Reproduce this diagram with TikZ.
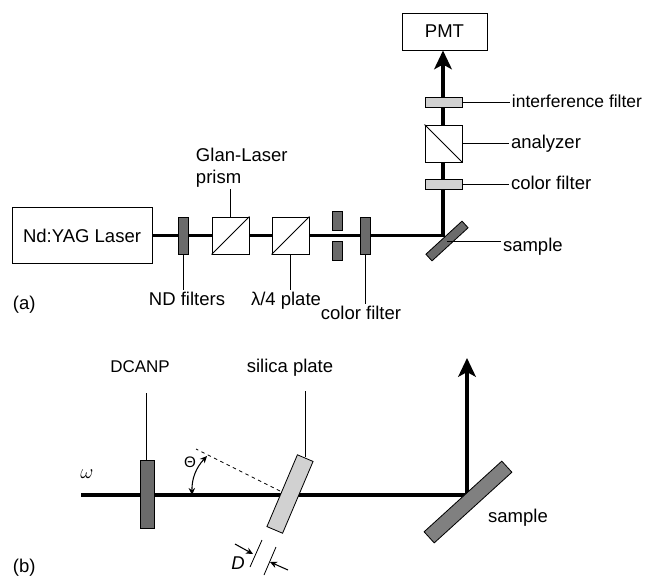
\documentclass[tikz,border=0pt]{standalone}
\usepackage{fontspec}
\setmainfont{Liberation Sans}
\usetikzlibrary{arrows.meta}
\def\pu{0.03cm}
\tikzset{
	box/.style={draw,line width=0.8pt,fill=white,inner sep=0pt,minimum width=#1*\pu,minimum height=37*\pu},
	cube/.style={draw,line width=0.8pt,fill=white,inner sep=0pt,minimum width=37*\pu,minimum height=37*\pu},
	plate/.style 2 args={draw,line width=0.7pt,fill=#2,inner sep=0pt,minimum width=#1*\pu},
	txt/.style={inner sep=1.5pt,font=\fontsize{15.8}{18}\selectfont},
	beam/.style={line width=2.8pt},
	lead/.style={line width=0.7pt},
	small/.style={line width=0.9pt,-{Stealth[length=6pt,width=5.5pt]}}
}
\colorlet{darkf}{black!58}
\colorlet{lightf}{black!18}
\begin{document}
\begin{tikzpicture}[x=\pu,y=-\pu,line join=miter,>=stealth]
	\useasboundingbox (0,0) rectangle (650,577);
	% (a)
	\coordinate (turn) at (443,235.5);
	\node[box=140,minimum height=56*\pu,txt] (laser) at (82,235.5) {Nd:YAG Laser};
	\node[box=85,txt] (pmt) at (444.5,31.5) {PMT};
	\draw[beam,-{Stealth[length=16pt,width=15pt,inset=4pt]}] (laser.east) -- (turn) -- (turn |- pmt.south);
	\node[plate={9.5}{darkf},minimum height=37*\pu] (nd) at (183.5,235.5) {};
	\node[cube] (glan) at (230.5,235.5) {};
	\node[cube] (quarter) at (290.5,235.5) {};
	\node[plate={10}{darkf},minimum height=19*\pu] (slit1) at (337,220.5) {};
	\node[plate={10}{darkf},minimum height=19*\pu] (slit2) at (337,250.5) {};
	\node[plate={10}{darkf},minimum height=37*\pu] (cfa) at (365,235.5) {};
	\node[plate={37}{lightf},minimum height=10*\pu] (intf) at (443.5,102) {};
	\node[cube] (ana) at (443.5,143.5) {};
	\node[plate={37}{lightf},minimum height=10*\pu] (cfb) at (443.5,184) {};
	\node[plate={49}{darkf},minimum height=9*\pu,rotate=42.5] (sama) at (447,241) {};
	\draw[line width=0.8pt] (glan.south west) -- (glan.north east);
	\draw[line width=0.8pt] (quarter.south west) -- (quarter.north east);
	\draw[line width=0.8pt] (ana.north west) -- (ana.south east);
	\path[txt]
	(194,161) node[anchor=base west] (glanl) {Glan-Laser}
	(194,183) node[anchor=base west] (prisml) {prism}
	(187,305) node[anchor=base] (ndl) {ND filters}
	(286,305) node[anchor=base] (quarterl) {λ/4 plate}
	(361,319) node[anchor=base] (cfal) {color filter}
	(510,107) node[anchor=base west,font=\fontsize{14.9}{18}\selectfont] (intl) {interference filter}
	(509,148) node[anchor=base west] (anal) {analyzer}
	(509,189) node[anchor=base west] (cfbl) {color filter}
	(501,251) node[anchor=base west] (samal) {sample}
	(11,309) node[anchor=base west] (al) {(a)};
	\draw[lead] (glan.north) -- (glan.north |- prisml.south);
	\draw[lead] (nd.south) -- (nd.south |- ndl.north);
	\draw[lead] (quarter.south) -- (quarter.south |- quarterl.north);
	\draw[lead] (cfa.south) -- (cfa.south |- cfal.north);
	\draw[lead] (intf.east) -- (intf.east -| intl.west);
	\draw[lead] (ana.east) -- (ana.east -| anal.west);
	\draw[lead] (cfb.east) -- (cfb.east -| cfbl.west);
	\draw[lead] (sama.center) -- (sama.center -| samal.west);
	% (b)
	\coordinate (start) at (81,495);
	\coordinate (turnb) at (467,495);
	\coordinate (tipb) at (467,358);
	\coordinate (hit) at (280,491);
	\coordinate (normal) at (196,449);
	\coordinate (thi) at (192,495);
	\coordinate (tht) at (207,456);
	\coordinate (d1a) at (262,540);
	\coordinate (d1b) at (250,567);
	\coordinate (d2a) at (276,547);
	\coordinate (d2b) at (264,575);
	\coordinate (d1c) at (235,544);
	\coordinate (d1e) at (253,554);
	\coordinate (d2c) at (288,570);
	\coordinate (d2e) at (270,562);
	\draw[beam,-{Stealth[length=16pt,width=15pt,inset=4pt]}] (start) -- (turnb) -- (tipb);
	\node[plate={14}{darkf},minimum height=68*\pu] (dcanp) at (147,494) {};
	\node[plate={78}{lightf},minimum height=17*\pu,rotate=67] (silica) at (290,494) {};
	\node[plate={105}{black!50},minimum height=15*\pu,rotate=42.3] (samb) at (468,502) {};
	\draw[dashed,line width=0.7pt] (hit) -- (normal);
	\draw[line width=0.9pt,{Stealth[length=6pt,width=5.5pt]}-{Stealth[length=6pt,width=5.5pt]}] (thi) to[bend left=22] (tht);
	\draw[lead] (d1a) -- (d1b) (d2a) -- (d2b);
	\draw[small] (d1c) -- (d1e);
	\draw[small] (d2c) -- (d2e);
	\path[txt]
	(140,372) node[anchor=base,font=\fontsize{14.5}{18}\selectfont] (dcanpl) {DCANP}
	(290,372) node[anchor=base] (silical) {silica plate}
	(518,522) node[anchor=base] (sambl) {sample}
	(190,467) node[anchor=base,font=\fontsize{13}{18}\selectfont] (thl) {Θ}
	(87,478) node[anchor=base,font=\fontsize{17}{18}\selectfont] (wl) {$\omega$}
	(238,569) node[anchor=base] (dl) {\itshape D}
	(11,572) node[anchor=base west] (bl) {(b)};
	\draw[lead] (dcanp.north -| 146,0) -- (146,393);
	\draw[lead] (305,457) -- (305,391);
\end{tikzpicture}
\end{document}
